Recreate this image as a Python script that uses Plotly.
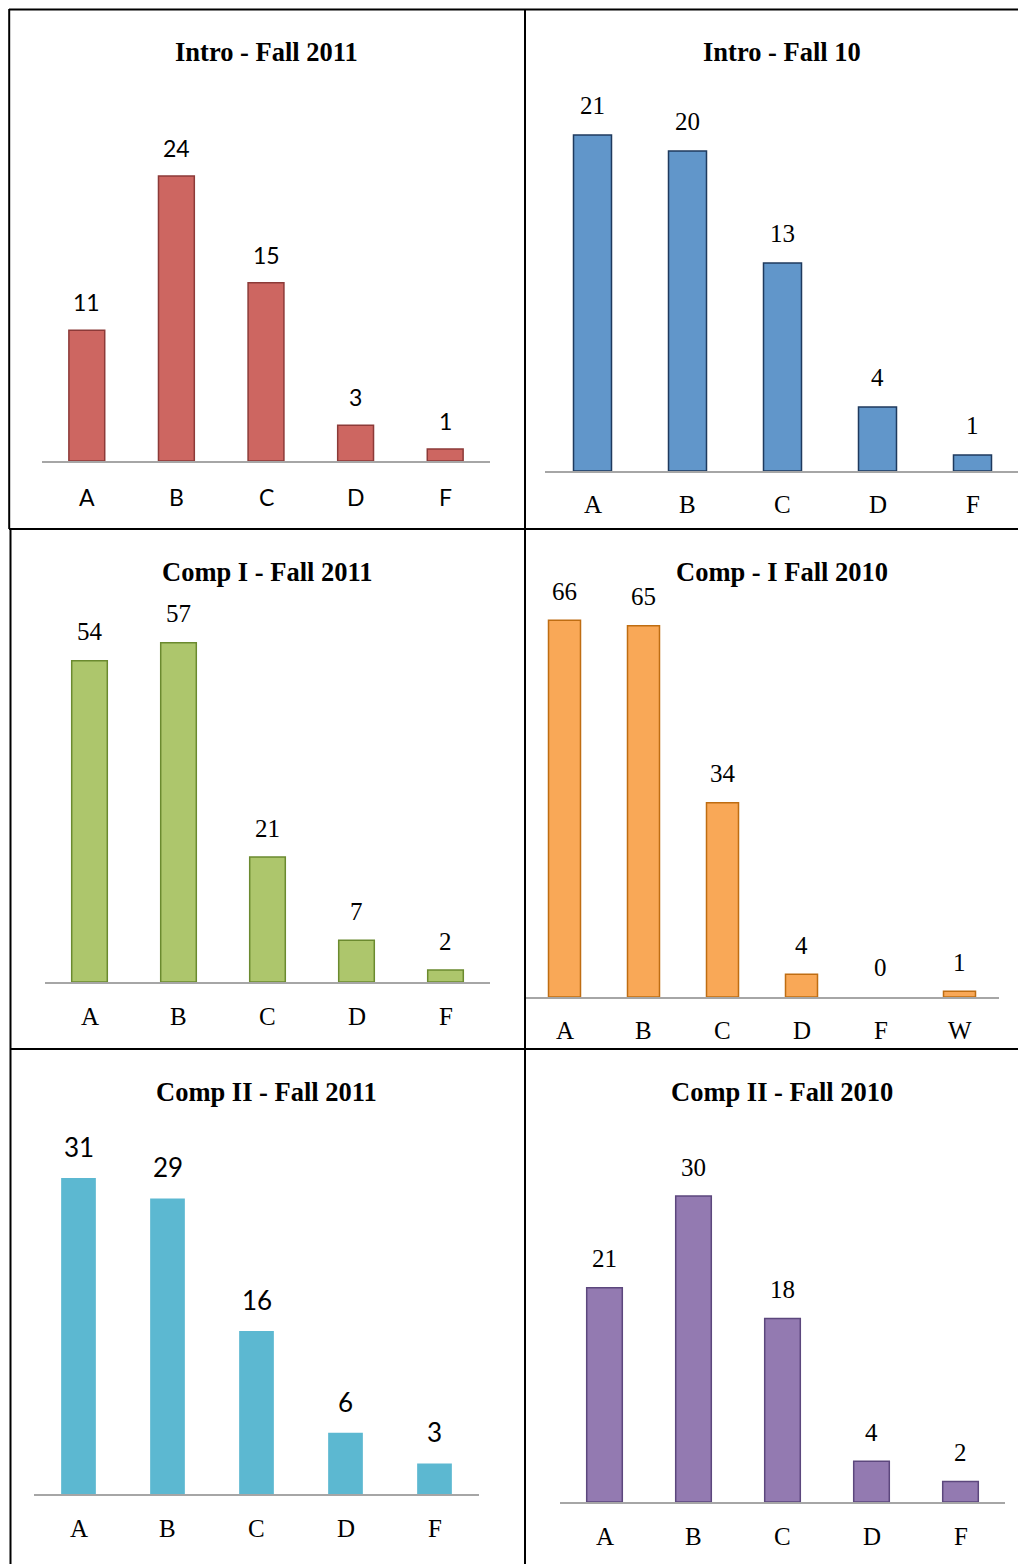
import plotly.graph_objects as go

# the page places the figure 8px in from the top-left corner
OFF = 8
W, H = 1026 - OFF, 1564 - OFF

# ---------------- data ----------------
titles = ["Intro - Fall 2011", "Intro - Fall 10", "Comp I - Fall 2011",
          "Comp - I Fall 2010", "Comp II - Fall 2011", "Comp II - Fall 2010"]
grades_5 = ["A", "B", "C", "D", "F"]
grades_6 = ["A", "B", "C", "D", "F", "W"]
intro_fall_2011 = [11, 24, 15, 3, 1]
intro_fall_2010 = [21, 20, 13, 4, 1]
comp1_fall_2011 = [54, 57, 21, 7, 2]
comp1_fall_2010 = [66, 65, 34, 4, 0, 1]
comp2_fall_2011 = [31, 29, 16, 6, 3]
comp2_fall_2010 = [21, 30, 18, 4, 2]

SANS = "Lato, Carlito, Calibri, sans-serif"
SERIF = "Liberation Serif, Times New Roman, serif"

# ---------------- panel styling (page-pixel layout) ----------------
panels = [
    dict(cats=grades_5, vals=intro_fall_2011, xl=42, xr=490, base=461, scale=11.875, ymax=28,
         fill="#CD6661", line="#8C3A38", lw=1.5, bw=0.4,
         vfont=dict(family=SANS, size=23), cfont=dict(family=SANS, size=23),
         tx=266, ty=52, vshift=28, cshift=36),
    dict(cats=grades_5, vals=intro_fall_2010, xl=545, xr=1020, base=471, scale=16.0, ymax=24,
         fill="#6196CA", line="#1F3A5E", lw=1.5, bw=0.4,
         vfont=dict(family=SERIF, size=25), cfont=dict(family=SERIF, size=25),
         tx=782, ty=52, vshift=29, cshift=34),
    dict(cats=grades_5, vals=comp1_fall_2011, xl=45, xr=490, base=982, scale=5.95, ymax=66,
         fill="#ADC66C", line="#6B8A2F", lw=1.5, bw=0.4,
         vfont=dict(family=SERIF, size=25), cfont=dict(family=SERIF, size=25),
         tx=267, ty=572, vshift=29, cshift=34),
    dict(cats=grades_6, vals=comp1_fall_2010, xl=525, xr=999, base=997, scale=5.71, ymax=72,
         fill="#F9A857", line="#BF6D12", lw=1.5, bw=0.405,
         vfont=dict(family=SERIF, size=25), cfont=dict(family=SERIF, size=25),
         tx=782, ty=572, vshift=29, cshift=34),
    dict(cats=grades_5, vals=comp2_fall_2011, xl=34, xr=479, base=1494, scale=10.19, ymax=34,
         fill="#5CB8D1", line="#5CB8D1", lw=0, bw=0.39,
         vfont=dict(family=SANS, size=26), cfont=dict(family=SERIF, size=25),
         tx=266, ty=1092, vshift=31, cshift=34),
    dict(cats=grades_5, vals=comp2_fall_2010, xl=560, xr=1005, base=1502, scale=10.2, ymax=34,
         fill="#937AB1", line="#5C477D", lw=1.5, bw=0.4,
         vfont=dict(family=SERIF, size=25), cfont=dict(family=SERIF, size=25),
         tx=782, ty=1092, vshift=29, cshift=34),
]


def px(x):
    return (x - OFF) / W


def py(y):
    return 1 - (y - OFF) / H


fig = go.Figure()
annotations = []
layout_axes = {}

for i, p in enumerate(panels, start=1):
    xa = "x" if i == 1 else f"x{i}"
    ya = "y" if i == 1 else f"y{i}"
    xkey = "xaxis" if i == 1 else f"xaxis{i}"
    ykey = "yaxis" if i == 1 else f"yaxis{i}"
    n = len(p["cats"])
    top_px = p["base"] - p["ymax"] * p["scale"]

    # no outline drawn for empty (zero) bars
    line_widths = [p["lw"] if v > 0 else 0 for v in p["vals"]]

    fig.add_trace(go.Bar(
        x=p["cats"], y=p["vals"], xaxis=xa, yaxis=ya,
        width=p["bw"],
        marker=dict(color=p["fill"], line=dict(color=p["line"], width=line_widths)),
        hoverinfo="x+y", showlegend=False,
    ))

    layout_axes[xkey] = dict(
        domain=[px(p["xl"]), min(px(p["xr"]), 1.0)],
        anchor=ya, type="category", range=[-0.5, n - 0.5],
        showline=True, linecolor="#A6A6A6", linewidth=2,
        showticklabels=False, ticks="", showgrid=False, zeroline=False,
        fixedrange=True,
    )
    layout_axes[ykey] = dict(
        domain=[py(p["base"]), py(top_px)],
        anchor=xa, range=[0, p["ymax"]],
        visible=False, showgrid=False, zeroline=False, fixedrange=True,
    )

    for c, v in zip(p["cats"], p["vals"]):
        annotations.append(dict(
            x=c, y=v, xref=xa, yref=ya, text=str(v), showarrow=False,
            yanchor="middle", xanchor="center", yshift=p["vshift"],
            font=dict(color="#000000", **p["vfont"]),
        ))
        annotations.append(dict(
            x=c, y=0, xref=xa, yref=ya, text=c, showarrow=False,
            yanchor="middle", xanchor="center", yshift=-p["cshift"],
            font=dict(color="#000000", **p["cfont"]),
        ))

    annotations.append(dict(
        x=px(p["tx"]), y=py(p["ty"]), xref="paper", yref="paper",
        text=f"<b>{titles[i - 1]}</b>", showarrow=False,
        xanchor="center", yanchor="middle",
        font=dict(family=SERIF, size=26.5, color="#000000"),
    ))


# table borders (page pixels)
def hline(y, x0, x1):
    return dict(type="line", xref="paper", yref="paper",
                x0=px(x0), x1=px(x1), y0=py(y), y1=py(y),
                line=dict(color="#000000", width=2))


def vline(x, y0, y1):
    return dict(type="line", xref="paper", yref="paper",
                x0=px(x), x1=px(x), y0=py(y0), y1=py(y1),
                line=dict(color="#000000", width=2))


shapes = [
    hline(9.5, 9, 1026),
    hline(529, 9, 1026),
    hline(1049, 10, 1026),
    vline(9.2, 9, 529),
    vline(10.5, 529, 1564),
    vline(525, 9, 1564),
]

fig.update_layout(
    width=W, height=H,
    margin=dict(l=0, r=0, t=0, b=0),
    paper_bgcolor="#FFFFFF", plot_bgcolor="rgba(0,0,0,0)",
    showlegend=False,
    annotations=annotations,
    shapes=shapes,
    **layout_axes,
)

fig.write_html("out.html")
